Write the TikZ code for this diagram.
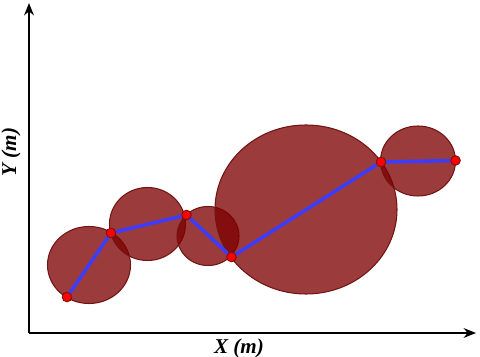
\documentclass[tikz,border=0pt]{standalone}
\usepackage{fontspec}
\setmainfont{Liberation Serif}
\usetikzlibrary{arrows.meta}
\definecolor{discred}{RGB}{125,0,0}
\definecolor{rimred}{RGB}{115,20,20}
\definecolor{legblue}{RGB}{60,60,255}

\begin{document}
\begin{tikzpicture}[x=0.02cm, y=-0.02cm,
    disc/.style={fill=discred, fill opacity=0.77, draw=rimred, line width=0.6pt},
    wp/.style={circle, fill=red, draw=rimred, line width=0.5pt, inner sep=0pt, minimum size=5.5pt},
    leg/.style={draw=legblue, line width=2pt},
    axis/.style={line width=1.2pt, -{Stealth[length=7pt, width=5.5pt]}}]
  \useasboundingbox (0,0) rectangle (480,357);
  % axes
  \coordinate (o) at (29,333);
  \coordinate (ytop) at (29,3);
  \coordinate (xend) at (476,333);
  \draw[axis] (o) -- (ytop);
  \draw[axis] (o) -- (xend);
  \node[font=\bfseries\itshape\large, rotate=90] (ylab) at (11,152) {Y (m)};
  \node[font=\bfseries\itshape\large] (xlab) at (239,348) {X (m)};
  % discs
  \foreach \cx/\cy/\rx/\ry in {89/265/41.5/38.5, 147.5/224/38/36.5, 208/236/31/29.5, 306/209.5/91/84.5, 418/161/37.5/35} {
    \filldraw[disc] (\cx,\cy) ellipse [x radius=\rx, y radius=\ry];
  }
  % waypoints and path
  \foreach \n/\px/\py in {p1/67/297, p2/111/233, p3/186.5/215, p4/231.5/257, p5/381/162, p6/455.5/160.5} {
    \node[wp] (\n) at (\px,\py) {};
  }
  \draw[leg] (p1) -- (p2);
  \draw[leg] (p2) -- (p3);
  \draw[leg] (p3) -- (p4);
  \draw[leg] (p4) -- (p5);
  \draw[leg] (p5) -- (p6);
\end{tikzpicture}
\end{document}
